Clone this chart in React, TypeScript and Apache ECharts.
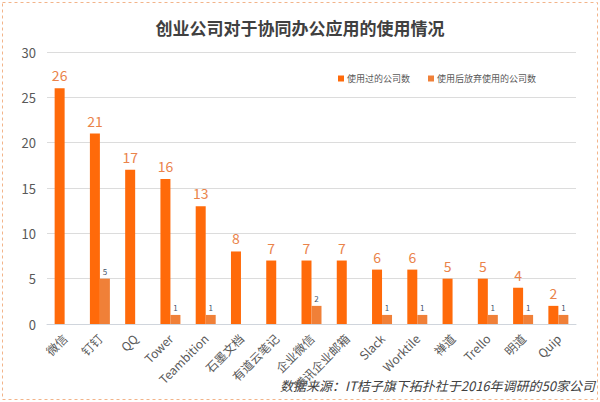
import React, { useEffect, useRef } from "react";
import * as echarts from "echarts";

const categories = ["微信", "钉钉", "QQ", "Tower", "Teambition", "石墨文档", "有道云笔记", "企业微信", "腾讯企业邮箱", "Slack", "Worktile", "禅道", "Trello", "明道", "Quip"];
const usedCounts = [26, 21, 17, 16, 13, 8, 7, 7, 7, 6, 6, 5, 5, 4, 2];
const abandonedCounts: (number | null)[] = [null, 5, null, 1, 1, null, null, 2, null, 1, 1, null, 1, 1, 1];
const yTicks = { min: 0, max: 30, interval: 5 };
const titleText = "创业公司对于协同办公应用的使用情况";
const sourceText = "数据来源：IT桔子旗下拓扑社于2016年调研的50家公司";
const seriesNames = ["使用过的公司数", "使用后放弃使用的公司数"];

const FONT = "'Noto Sans CJK SC', 'Noto Sans', sans-serif";

export default function App() {
  const ref = useRef<HTMLDivElement>(null);
  useEffect(() => {
    document.body.style.margin = "0";
    const chart = echarts.init(ref.current!, null, { renderer: "svg" });
    chart.setOption({
      animation: false,
      backgroundColor: "#ffffff",
      textStyle: { fontFamily: FONT },
      title: {
        text: titleText,
        left: "center",
        top: 14,
        textStyle: { fontSize: 17, fontWeight: "bold", color: "#404040", fontFamily: FONT },
      },
      legend: {
        left: 333,
        top: 69,
        icon: "rect",
        itemWidth: 6,
        itemHeight: 6,
        itemGap: 18,
        textStyle: { fontSize: 9, color: "#595959", fontFamily: FONT, padding: [0, 0, 0, -2] },
        data: seriesNames,
      },
      grid: { left: 47, right: 24, top: 52, bottom: 78 },
      xAxis: {
        type: "category",
        data: categories,
        axisLine: { lineStyle: { color: "#D0D5DC" } },
        axisTick: { show: false },
        axisLabel: { rotate: 45, interval: 0, fontSize: 12, color: "#595959", margin: 12, fontFamily: FONT },
      },
      yAxis: {
        type: "value",
        min: yTicks.min,
        max: yTicks.max,
        interval: yTicks.interval,
        axisLine: { show: false },
        axisTick: { show: false },
        splitLine: { lineStyle: { color: "#DCDCDC" } },
        axisLabel: { fontSize: 13, color: "#595959", margin: 11, fontFamily: FONT },
      },
      series: [
        {
          name: seriesNames[0],
          type: "bar",
          data: usedCounts,
          barWidth: 10,
          barGap: "0%",
          itemStyle: { color: "#FF6A0A" },
          label: { show: true, position: "top", distance: 6, fontSize: 14, color: "#EA834A", fontFamily: FONT },
        },
        {
          name: seriesNames[1],
          type: "bar",
          data: abandonedCounts.map((v) => (v === null ? "-" : v)),
          barWidth: 10,
          barGap: "0%",
          itemStyle: { color: "#F08038" },
          label: { show: true, position: "top", distance: 3, fontSize: 8, color: "#44546A", fontFamily: FONT },
        },
      ],
      graphic: [
        {
          type: "rect",
          shape: { x: 2.5, y: 2.5, width: 595, height: 397 },
          style: { fill: "none", stroke: "#F2B48A", lineWidth: 1, lineDash: [3, 3] },
          silent: true,
        },
        {
          type: "text",
          x: 595,
          y: 385,
          style: {
            text: sourceText,
            fontSize: 13,
            fontStyle: "italic",
            fill: "#404040",
            fontFamily: FONT,
            textAlign: "right",
            textVerticalAlign: "middle",
          },
        },
      ],
    });
    return () => chart.dispose();
  }, []);
  return <div ref={ref} style={{ width: 600, height: 402, position: "absolute", left: 0, top: 0 }} />;
}
